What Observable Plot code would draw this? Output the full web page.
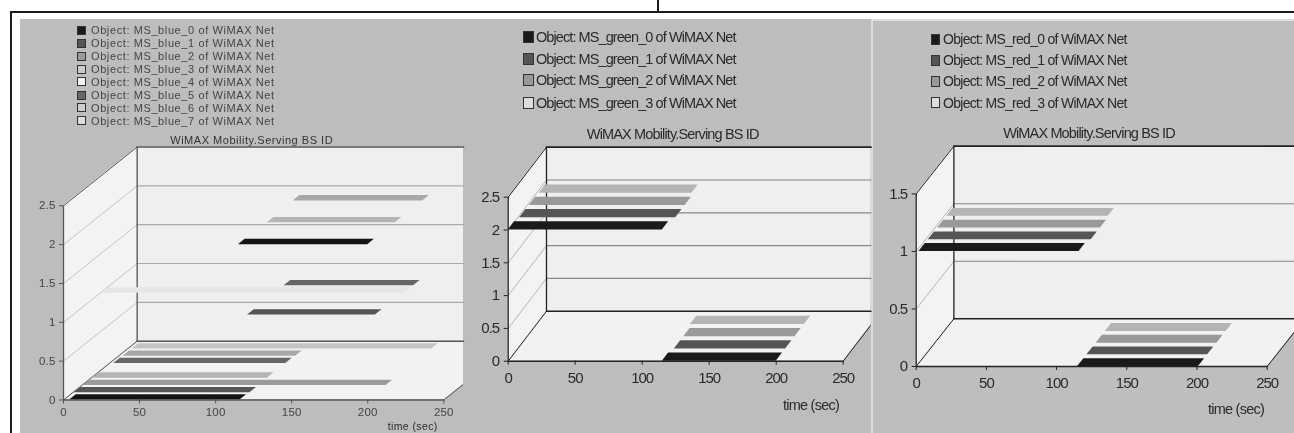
<!DOCTYPE html>
<html><head><meta charset="utf-8">
<script src="https://cdn.jsdelivr.net/npm/d3@7"></script>
<script src="https://cdn.jsdelivr.net/npm/@observablehq/plot@0.6"></script>
<style>
html,body{margin:0;padding:0;background:#fff;overflow:hidden}
#root{position:relative;width:1294px;height:433px;overflow:hidden;font-family:"Liberation Sans",Arial,sans-serif}
.box{position:absolute}
.lbl{position:absolute;white-space:nowrap;transform:translateY(-50%)}
.ctr{transform:translate(-50%,-50%)}
.blur{position:absolute;left:0;top:0;width:1294px;height:433px;filter:blur(.45px)}
svg{position:absolute;overflow:hidden}
</style></head><body><div id="root"></div>
<script>
// ---------- data ----------
const timeTicks = [0, 50, 100, 150, 200, 250];
const blueYTicks = [0, 0.5, 1, 1.5, 2, 2.5];
const greenYTicks = [0, 0.5, 1, 1.5, 2, 2.5];
const redYTicks = [0, 0.5, 1, 1.5];

const blueNames = ["MS_blue_0","MS_blue_1","MS_blue_2","MS_blue_3","MS_blue_4","MS_blue_5","MS_blue_6","MS_blue_7"];
const greenNames = ["MS_green_0","MS_green_1","MS_green_2","MS_green_3"];
const redNames = ["MS_red_0","MS_red_1","MS_red_2","MS_red_3"];

// one entry per bar: series index, serving BS id, start, end (sec)
const blueSeries = [0,1,2,3,5,6,7,4,0,1,3,5,6];
const blueLevel  = [0,0,0,0,0,0,0,1,2,1,2,1,2];
const blueStart  = [4,1,1,1,3,3,3,2,115,115,116,115,115];
const blueEnd    = [116,116.5,200,116,116,116.5,200,200,200,199,200,200,200];

const greenSeries = [0,1,2,3,0,1,2,3];
const greenLevel  = [2,2,2,2,0,0,0,0];
const greenStart  = [0,1.5,1.7,2,115,117,117,115];
const greenEnd    = [115,118,118,116,200,200,200,200];

const redSeries = [0,1,2,3,0,1,2,3];
const redLevel  = [1,1,1,1,0,0,0,0];
const redStart  = [2,2,2,2,115,115,115,115];
const redEnd    = [116,118,118,117,201,201,201,201];

// ---------- styling / layout ----------
const blueFills = ["#141414","#555","#9a9a9a","#b4b4b4","#e6e6e6","#666","#a8a8a8","#c4c4c4"];
const fourFills = ["#1a1a1a","#555","#999","#b4b4b4"];
const swatchFills = {blue:["#1a1a1a","#555","#999","#ccc","#f2f2f2","#666","#ccc","#ddd"], four:["#1a1a1a","#555","#999","#ddd"]};

const panels = [
 {left:20,right:463,x0:63,x250:443.3,y0:399.5,wallTop:146.5,yMax:2.5,depthPx:[73.7,58.8],ticks:blueYTicks,
  names:blueNames,series:blueSeries,level:blueLevel,start:blueStart,end:blueEnd,fills:blueFills,swatch:swatchFills.blue,
  slot:.124,thick:.09,grid:"#aaa",slant:"#c4c4c4",edge:"#555",fs:11.5,ls:"0.2px",xPad:4,yPad:4,tickSize:4,tickColor:"#444",
  leg:{sx:77,sw:9,sh:9,tx:91,fs:11,ls:"0.6px",rows:[30.3,43,56,69,81.7,95,107.7,120.7],c:"#444"},
  title:{x:251.7,y:140,fs:11,ls:"0.52px",c:"#333"},timeL:{x:412.7,y:426,fs:10.5,ls:"0.4px"}},
 {left:471,right:870.5,x0:507.7,x250:842.7,y0:360.7,wallTop:146.7,yMax:2.5,depthPx:[38.3,50],ticks:greenYTicks,
  names:greenNames,series:greenSeries,level:greenLevel,start:greenStart,end:greenEnd,fills:fourFills,swatch:swatchFills.four,
  slot:.245,thick:.165,grid:"#888",slant:"#b4b4b4",edge:"#222",fs:15,ls:"-1px",xPad:7,yPad:5,tickSize:4,tickColor:"#2a2a2a",
  leg:{sx:522.7,sw:11,sh:12,tx:536,fs:14.5,ls:"-0.92px",rows:[36.7,58.7,80.3,102.7],c:"#2a2a2a"},
  title:{x:672.7,y:134,fs:14.5,ls:"-0.85px",c:"#2a2a2a"},timeL:{x:811,y:405,fs:14.5,ls:"-0.75px"}},
 {left:871,right:1294,x0:915.7,x250:1266.7,y0:366,wallTop:145.7,yMax:1.5,depthPx:[37.7,47.7],ticks:redYTicks,
  names:redNames,series:redSeries,level:redLevel,start:redStart,end:redEnd,fills:fourFills,swatch:swatchFills.four,
  slot:.245,thick:.165,grid:"#888",slant:"#b4b4b4",edge:"#222",fs:15,ls:"-1px",xPad:7,yPad:5,tickSize:4,tickColor:"#2a2a2a",
  leg:{sx:930.7,sw:9.5,sh:11,tx:943,fs:14,ls:"-0.72px",rows:[39,60.3,81.3,102.7],c:"#2a2a2a"},
  title:{x:1089,y:133,fs:14.5,ls:"-0.85px",c:"#2a2a2a"},timeL:{x:1236,y:408.7,fs:14.5,ls:"-0.75px"}}
];
const PANEL_TOP = 19, PANEL_BOTTOM = 433;

const root = document.getElementById("root");
const blurLayer = document.createElement("div"); blurLayer.className = "blur"; root.appendChild(blurLayer);
function box(l,t,w,h,bg){const d=document.createElement("div");d.className="box";
  d.style.cssText=`left:${l}px;top:${t}px;width:${w}px;height:${h}px;background:${bg}`;blurLayer.appendChild(d);return d;}
function label(txt,x,y,fs,ls,c,center){const d=document.createElement("div");d.className="lbl"+(center?" ctr":"");
  d.textContent=txt;d.style.cssText=`left:${x}px;top:${y}px;font-size:${fs}px;letter-spacing:${ls};color:${c}`;blurLayer.appendChild(d);}

// outer frame + grey sheets
box(10,11,1284,2.4,"#1a1a1a"); box(9.5,11,2.6,422,"#1a1a1a"); box(657,0,2,12,"#1a1a1a");
box(20,19,851,414,"#bdbdbd");
box(871,19,423,414,"#bebebe"); box(871,19,423,1.5,"#dcdcdc"); box(871,19,1.5,414,"#dcdcdc");

for (const p of panels) {
  const pxPerSec = (p.x250 - p.x0) / 250;
  const pxPerUnit = (p.y0 - (p.wallTop + p.depthPx[1])) / p.yMax;
  const dT = p.depthPx[0] / pxPerSec, dV = p.depthPx[1] / pxPerUnit;
  const tMax = (p.right - p.x0) / pxPerSec, vMax = p.yMax + dV;

  const grids = p.ticks.filter(v => v > 0 && v < p.yMax);
  const backGrid = grids.flatMap(v => [{x:dT,y:v+dV,v},{x:tMax,y:v+dV,v}]);
  const slantGrid = grids.flatMap(v => [{x:0,y:v,v},{x:dT,y:v+dV,v}]);

  // parallelograms projected from (time, depth, level)
  const bars = p.series.flatMap((s,i) => {
    const d0 = s*p.slot, d1 = d0+p.thick, v = p.level[i], a = p.start[i], b = p.end[i];
    return [{y:v+d0*dV,x1:a+d0*dT,x2:b+d0*dT,s,i},{y:v+d1*dV,x1:a+d1*dT,x2:b+d1*dT,s,i}];
  });
  const floor = [{y:0,x1:0,x2:250},{y:dV,x1:dT,x2:250+dT}];
  const sideWall = [{x:0,y1:0,y2:p.yMax},{x:dT,y1:dV,y2:vMax}];
  const backWall = [{x:dT,y1:dV,y2:vMax},{x:tMax,y1:dV,y2:vMax}];
  const line = (pts,o) => Plot.line(pts,{x:"x",y:"y",...o});

  const svg = Plot.plot({
    width: p.right - p.left, height: PANEL_BOTTOM - PANEL_TOP,
    marginLeft: p.x0 - p.left, marginRight: 0,
    marginTop: p.wallTop - PANEL_TOP, marginBottom: PANEL_BOTTOM - p.y0,
    x:{domain:[0,tMax],axis:null}, y:{domain:[0,vMax],axis:null},
    style:{background:"transparent",fontFamily:"'Liberation Sans',Arial,sans-serif",fontSize:p.fs+"px",letterSpacing:p.ls,overflow:"visible"},
    marks:[
      Plot.areaY(backWall,{x:"x",y1:"y1",y2:"y2",fill:"#efefef"}),
      Plot.areaY(sideWall,{x:"x",y1:"y1",y2:"y2",fill:"#f3f3f3"}),
      Plot.areaX(floor,{y:"y",x1:"x1",x2:"x2",fill:"#f2f2f2",clip:"frame"}),
      line(backGrid,{z:"v",stroke:p.grid,strokeWidth:1.2}),
      line(slantGrid,{z:"v",stroke:p.slant,strokeWidth:1}),
      line([{x:dT,y:dV},{x:dT,y:vMax}],{stroke:p.edge,strokeWidth:1.3}),
      line([{x:dT,y:vMax},{x:tMax,y:vMax}],{stroke:p.edge,strokeWidth:1.7}),
      line([{x:dT,y:dV},{x:tMax,y:dV}],{stroke:p.edge,strokeWidth:1.5}),
      line([{x:0,y:0},{x:dT,y:dV}],{stroke:p.edge,strokeWidth:1}),
      line([{x:0,y:p.yMax},{x:dT,y:vMax}],{stroke:p.edge,strokeWidth:1}),
      line([{x:250,y:0},{x:250+dT,y:dV}],{stroke:p.edge,strokeWidth:1,clip:"frame"}),
      Plot.areaX(bars,{y:"y",x1:"x1",x2:"x2",z:"i",fill:d=>p.fills[d.s]}),
      line([{x:0,y:0},{x:0,y:p.yMax}],{stroke:p.edge,strokeWidth:1.3}),
      line([{x:0,y:0},{x:250,y:0}],{stroke:p.edge,strokeWidth:1.5}),
      Plot.axisX(timeTicks,{anchor:"bottom",label:null,tickSize:p.tickSize,tickPadding:p.xPad,stroke:p.edge,color:p.tickColor,fill:p.tickColor,tickFormat:d=>d}),
      Plot.axisY(p.ticks,{anchor:"left",label:null,tickSize:p.tickSize,tickPadding:p.yPad,stroke:p.edge,color:p.tickColor,fill:p.tickColor,tickFormat:d=>d})
    ]
  });
  svg.style.left = p.left + "px"; svg.style.top = PANEL_TOP + "px";
  blurLayer.appendChild(svg);

  p.names.forEach((n,i) => {
    const y = p.leg.rows[i];
    const sw = box(p.leg.sx, y - p.leg.sh/2, p.leg.sw, p.leg.sh, p.swatch[i]);
    sw.style.boxSizing = "border-box"; sw.style.border = "1.2px solid #333";
    label(`Object: ${n} of WiMAX Net`, p.leg.tx, y, p.leg.fs, p.leg.ls, p.leg.c);
  });
  label("WiMAX Mobility.Serving BS ID", p.title.x, p.title.y, p.title.fs, p.title.ls, p.title.c, true);
  label("time (sec)", p.timeL.x, p.timeL.y, p.timeL.fs, p.timeL.ls, "#2a2a2a", true);
}
</script></body></html>
